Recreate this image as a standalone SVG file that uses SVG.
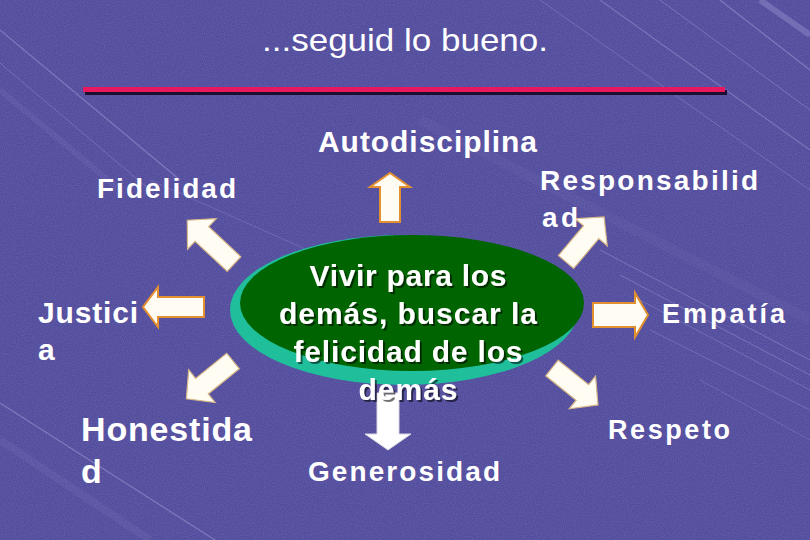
<svg xmlns="http://www.w3.org/2000/svg" width="810" height="540" viewBox="0 0 810 540">
<defs>
<style>
.lbl{font-family:"Liberation Sans",Arial,sans-serif;font-weight:bold;fill:#ffffff;}
.ttl{font-family:"Liberation Sans",Arial,sans-serif;fill:#ffffff;}
.arr{fill:#fffdf3;stroke:#e39030;stroke-width:2;stroke-linejoin:miter;}
.arr2{fill:#fffdf3;stroke:#d9b888;stroke-width:1.2;}
.arr3{fill:#ffffff;stroke:#d8d8e0;stroke-width:1;}
.streak{stroke:#c8c4f0;fill:none;}
</style>
<filter id="noise" x="0" y="0" width="100%" height="100%">
<feTurbulence type="fractalNoise" baseFrequency="0.9" numOctaves="1" seed="3"/>
<feColorMatrix type="matrix" values="0 0 0 0 1  0 0 0 0 1  0 0 0 0 1  0 0 0 1.2 -0.45"/>
</filter>
<filter id="sh" x="-10%" y="-10%" width="120%" height="130%">
<feDropShadow dx="2" dy="2" stdDeviation="0.6" flood-color="#000000" flood-opacity="0.55"/>
</filter>
</defs>

<!-- background -->
<rect x="0" y="0" width="810" height="540" fill="#534d9e"/>
<rect x="0" y="0" width="810" height="540" filter="url(#noise)" opacity="0.18"/>
<g id="streaks">
<line class="streak" x1="0" y1="30" x2="180" y2="180" stroke-width="1.2" opacity="0.35"/>
<line class="streak" x1="0" y1="63" x2="150" y2="190" stroke-width="1" opacity="0.25"/>
<line class="streak" x1="0" y1="90" x2="120" y2="190" stroke-width="6" opacity="0.08"/>
<line class="streak" x1="0" y1="403" x2="215" y2="540" stroke-width="1.2" opacity="0.35"/>
<line class="streak" x1="0" y1="440" x2="150" y2="540" stroke-width="8" opacity="0.07"/>
<line class="streak" x1="150" y1="180" x2="330" y2="260" stroke-width="1" opacity="0.2"/>
<line class="streak" x1="540" y1="0" x2="810" y2="190" stroke-width="1" opacity="0.25"/>
<line class="streak" x1="600" y1="0" x2="810" y2="150" stroke-width="1.2" opacity="0.3"/>
<line class="streak" x1="660" y1="0" x2="810" y2="110" stroke-width="1" opacity="0.3"/>
<line class="streak" x1="720" y1="0" x2="810" y2="70" stroke-width="1.2" opacity="0.35"/>
<line class="streak" x1="760" y1="0" x2="810" y2="35" stroke-width="6" opacity="0.25"/>
<line class="streak" x1="600" y1="250" x2="810" y2="360" stroke-width="1" opacity="0.3"/>
<line class="streak" x1="620" y1="275" x2="810" y2="375" stroke-width="1" opacity="0.3"/>
<line class="streak" x1="640" y1="300" x2="810" y2="390" stroke-width="1" opacity="0.25"/>
<line class="streak" x1="650" y1="330" x2="810" y2="410" stroke-width="1" opacity="0.25"/>
<line class="streak" x1="700" y1="380" x2="810" y2="440" stroke-width="1" opacity="0.2"/>
<line class="streak" x1="420" y1="120" x2="810" y2="320" stroke-width="10" opacity="0.05"/>
</g>

<!-- title -->
<g id="title">
<text class="ttl" x="262" y="51" font-size="32" textLength="286" lengthAdjust="spacingAndGlyphs">...seguid lo bueno.</text>
<rect x="85" y="90" width="642" height="5" fill="#1c0e2e"/>
<rect x="83" y="87" width="642" height="5" fill="#e8185e"/>
</g>

<!-- connectors -->
<g id="connectors">
<polygon class="arr" transform="translate(390,222) rotate(-90)" points="0,-10 35,-10 35,-20 49,0 35,20 35,10 0,10"/>
<polygon class="arr2" transform="translate(234,264) rotate(-136.9)" points="0,-10 44,-10 44,-21 64,0 44,21 44,10 0,10"/>
<polygon class="arr2" transform="translate(566,262) rotate(-49.8)" points="0,-10 39,-10 39,-21 59,0 39,21 39,10 0,10"/>
<polygon class="arr" transform="translate(204,307) rotate(180)" points="0,-10 46,-10 46,-20 61,0 46,20 46,10 0,10"/>
<polygon class="arr" transform="translate(593,315)" points="0,-12 42,-12 42,-22 55,0 42,22 42,12 0,12"/>
<polygon class="arr2" transform="translate(233,361) rotate(141)" points="0,-10 40,-10 40,-21 60,0 40,21 40,10 0,10"/>
<polygon class="arr2" transform="translate(552,368) rotate(38.8)" points="0,-10 39,-10 39,-21 59,0 39,21 39,10 0,10"/>
<polygon class="arr3" transform="translate(388,393) rotate(90)" points="0,-11 41,-11 41,-23 57,0 41,23 41,11 0,11"/>
</g>

<!-- center node -->
<g id="center">
<ellipse cx="404" cy="310" rx="174" ry="75" fill="#1fbf9c"/>
<ellipse cx="412" cy="303" rx="172" ry="68" fill="#006400"/>
<g filter="url(#sh)">
<text class="lbl" x="408" y="286" font-size="30" text-anchor="middle" textLength="197" lengthAdjust="spacing">Vivir para los</text>
<text class="lbl" x="408" y="324" font-size="30" text-anchor="middle" textLength="258" lengthAdjust="spacing">demás, buscar la</text>
<text class="lbl" x="408" y="362" font-size="30" text-anchor="middle" textLength="229" lengthAdjust="spacing">felicidad de los</text>
<text class="lbl" x="408" y="400" font-size="30" text-anchor="middle" textLength="99" lengthAdjust="spacing">demás</text>
</g>
</g>

<g id="autodisciplina"><text class="lbl" x="318" y="152" font-size="30" textLength="219" lengthAdjust="spacing">Autodisciplina</text></g>
<g id="fidelidad"><text class="lbl" x="97" y="198" font-size="28" textLength="139" lengthAdjust="spacing">Fidelidad</text></g>
<g id="responsabilidad">
<text class="lbl" x="540" y="190" font-size="28" textLength="218" lengthAdjust="spacing">Responsabilid</text>
<text class="lbl" x="542" y="227" font-size="28" textLength="36" lengthAdjust="spacing">ad</text>
</g>
<g id="justicia">
<text class="lbl" x="38" y="323" font-size="30" textLength="100" lengthAdjust="spacing">Justici</text>
<text class="lbl" x="38" y="360" font-size="30">a</text>
</g>
<g id="empatia"><text class="lbl" x="662" y="323" font-size="27" textLength="123" lengthAdjust="spacing">Empatía</text></g>
<g id="honestidad">
<text class="lbl" x="81" y="441" font-size="34" textLength="171" lengthAdjust="spacing">Honestida</text>
<text class="lbl" x="81" y="483" font-size="34">d</text>
</g>
<g id="respeto"><text class="lbl" x="608" y="439" font-size="27" textLength="122" lengthAdjust="spacing">Respeto</text></g>
<g id="generosidad"><text class="lbl" x="308" y="481" font-size="28" textLength="192" lengthAdjust="spacing">Generosidad</text></g>
</svg>
